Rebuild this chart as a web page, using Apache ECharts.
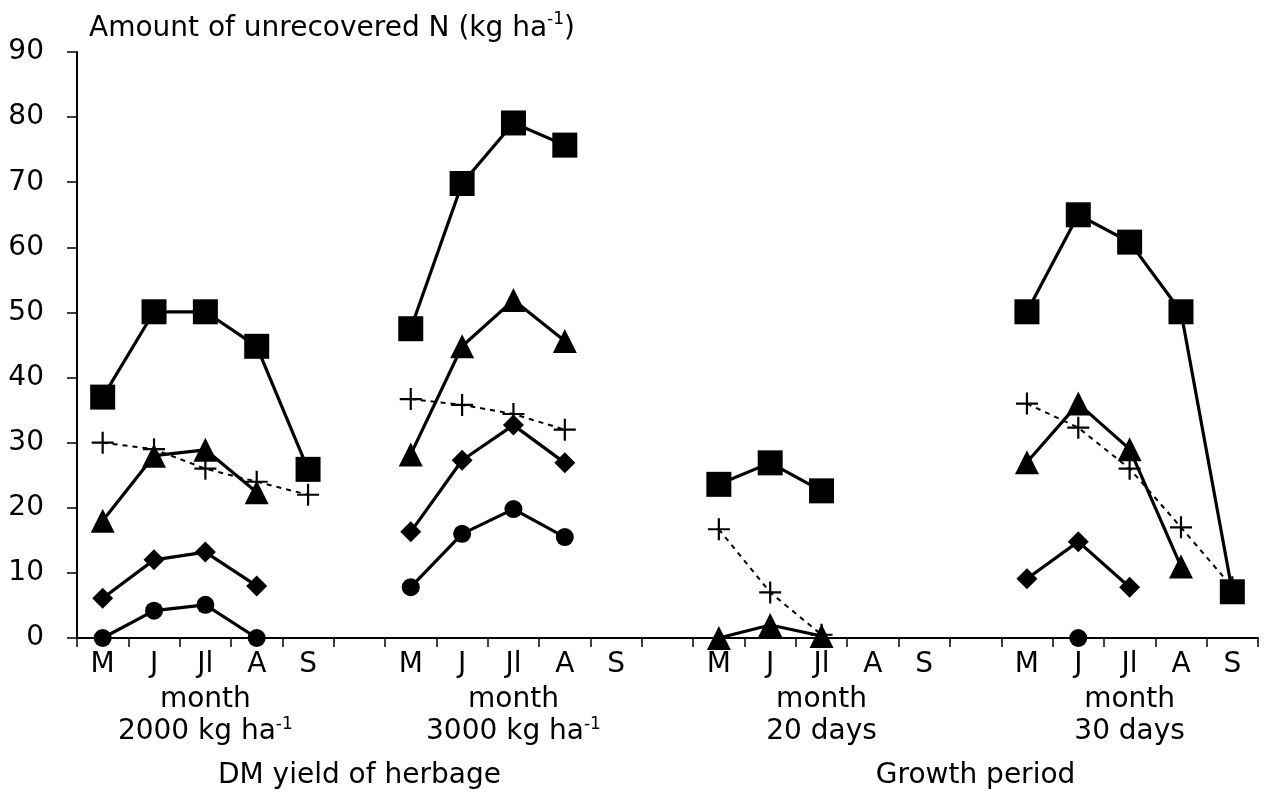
<!DOCTYPE html>
<html>
<head>
<meta charset="utf-8">
<script src="https://cdn.jsdelivr.net/npm/echarts@6/dist/echarts.min.js"></script>
<style>html,body{margin:0;padding:0;background:#fff}#c{width:1268px;height:792px}</style>
</head>
<body>
<div id="c"></div>
<script>
// categories: 4 groups of months separated by an empty slot
const months = ['M', 'J', 'Jl', 'A', 'S'];
const groupNames = ['2000 kg ha', '3000 kg ha', '20 days', '30 days'];
const groupSup = ['-1', '-1', '', ''];
const sectionNames = ['DM yield of herbage', 'Growth period'];
const yTicks = [0, 10, 20, 30, 40, 50, 60, 70, 80, 90];

// squares
const sq2000 = [37, 50.1, 50.1, 44.8, 25.9];
const sq3000 = [47.5, 69.8, 79.1, 75.7, null];
const sq20d  = [23.6, 26.9, 22.6, null, null];
const sq30d  = [50.1, 65, 60.8, 50.1, 7.1];
// triangles
const tr2000 = [18, 28, 28.9, 22.4, null];
const tr3000 = [28.2, 44.8, 51.9, 45.6, null];
const tr20d  = [0, 2, 0.3, null, null];
const tr30d  = [27, 36, 29, 11, null];
// plus
const pl2000 = [30, 29, 26, 24, 22];
const pl3000 = [36.7, 35.8, 34.4, 32, null];
const pl20d  = [16.7, 7, 0.5, null, null];
const pl30d  = [36, 32.3, 26, 17, 7.8];
// diamonds
const di2000 = [6.1, 12, 13.2, 8, null];
const di3000 = [16.3, 27.3, 32.7, 26.9, null];
const di20d  = [null, null, null, null, null];
const di30d  = [9.1, 14.8, 7.8, null, null];
// circles
const ci2000 = [0, 4.2, 5.1, 0, null];
const ci3000 = [7.8, 16, 19.8, 15.5, null];
const ci20d  = [null, null, null, null, null];
const ci30d  = [null, 0, null, null, null];

function build(a, b, c, d) { return [...a, null, ...b, null, ...c, null, ...d]; }
const categories = build(months, months, months, months).map(v => v === null ? '' : v);

const FONT = 'DejaVu Sans';
const FS = 28;
const BLACK = '#000';
const PLUS = 'path://M9,0h2v9h9v2h-9v9h-2v-9h-9v-2h9z';

function lineSeries(data, symbol, size, dashed) {
  return {
    type: 'line', data: data, symbol: symbol, symbolSize: size, clip: false,
    connectNulls: false, animation: false,
    lineStyle: dashed ? { color: BLACK, width: 2, type: [5, 5] } : { color: BLACK, width: 3.2 },
    itemStyle: { color: BLACK },
    emphasis: { disabled: true }
  };
}

const chart = echarts.init(document.getElementById('c'));
const groupCenter = i => (i % 6 === 2 && i < 23);
chart.setOption({
  animation: false,
  title: {
    text: '{a|Amount of unrecovered N (kg ha}{s|-1}{a|)}',
    left: 84, top: 6,
    textStyle: {
      fontWeight: 'normal',
      rich: {
        a: { fontFamily: FONT, fontSize: FS, fontWeight: 'normal', color: BLACK, lineHeight: 36 },
        s: { fontFamily: FONT, fontSize: 17, fontWeight: 'normal', color: BLACK, lineHeight: 26, verticalAlign: 'top' }
      }
    }
  },
  grid: { left: 77, right: 10, top: 52, bottom: 154, containLabel: false },
  xAxis: [
    {
      type: 'category', data: categories, boundaryGap: true,
      axisLine: { show: true, lineStyle: { color: BLACK, width: 2 } },
      axisTick: { show: true, interval: 0, length: 9, lineStyle: { color: BLACK, width: 1.5 } },
      axisLabel: { interval: 0, margin: 13, color: BLACK, fontFamily: FONT, fontSize: FS },
      splitLine: { show: false }
    },
    {
      type: 'category', data: categories, boundaryGap: true, position: 'bottom',
      axisLine: { show: false }, axisTick: { show: false },
      axisLabel: {
        interval: 0, margin: 46, color: BLACK,
        formatter: (v, i) => {
          if (!groupCenter(i)) return '';
          const g = Math.floor(i / 6);
          return '{a|month}\n{a|' + groupNames[g] + '}' + (groupSup[g] ? '{s|' + groupSup[g] + '}' : '');
        },
        rich: {
          a: { fontFamily: FONT, fontSize: FS, color: BLACK, lineHeight: 32 },
          s: { fontFamily: FONT, fontSize: 17, color: BLACK, lineHeight: 22, verticalAlign: 'top' }
        }
      }
    },
    {
      type: 'category', data: categories, boundaryGap: true, position: 'bottom',
      axisLine: { show: false }, axisTick: { show: false },
      axisLabel: {
        interval: 0, margin: 124, color: BLACK, fontFamily: FONT, fontSize: FS,
        formatter: (v, i) => i === 5 ? sectionNames[0] : (i === 17 ? sectionNames[1] : '')
      }
    }
  ],
  yAxis: {
    type: 'value', min: yTicks[0], max: yTicks[yTicks.length - 1], interval: 10,
    axisLine: { show: true, lineStyle: { color: BLACK, width: 2 } },
    axisTick: { show: true, length: 10, lineStyle: { color: BLACK, width: 1.5 } },
    axisLabel: { color: BLACK, fontFamily: FONT, fontSize: FS, margin: 33 },
    splitLine: { show: false }
  },
  series: [
    lineSeries(build(pl2000, pl3000, pl20d, pl30d), PLUS, 22, true),
    lineSeries(build(tr2000, tr3000, tr20d, tr30d), 'triangle', 24, false),
    lineSeries(build(di2000, di3000, di20d, di30d), 'diamond', 21, false),
    lineSeries(build(ci2000, ci3000, ci20d, ci30d), 'circle', 18, false),
    lineSeries(build(sq2000, sq3000, sq20d, sq30d), 'rect', 25, false)
  ]
});
</script>
</body>
</html>
